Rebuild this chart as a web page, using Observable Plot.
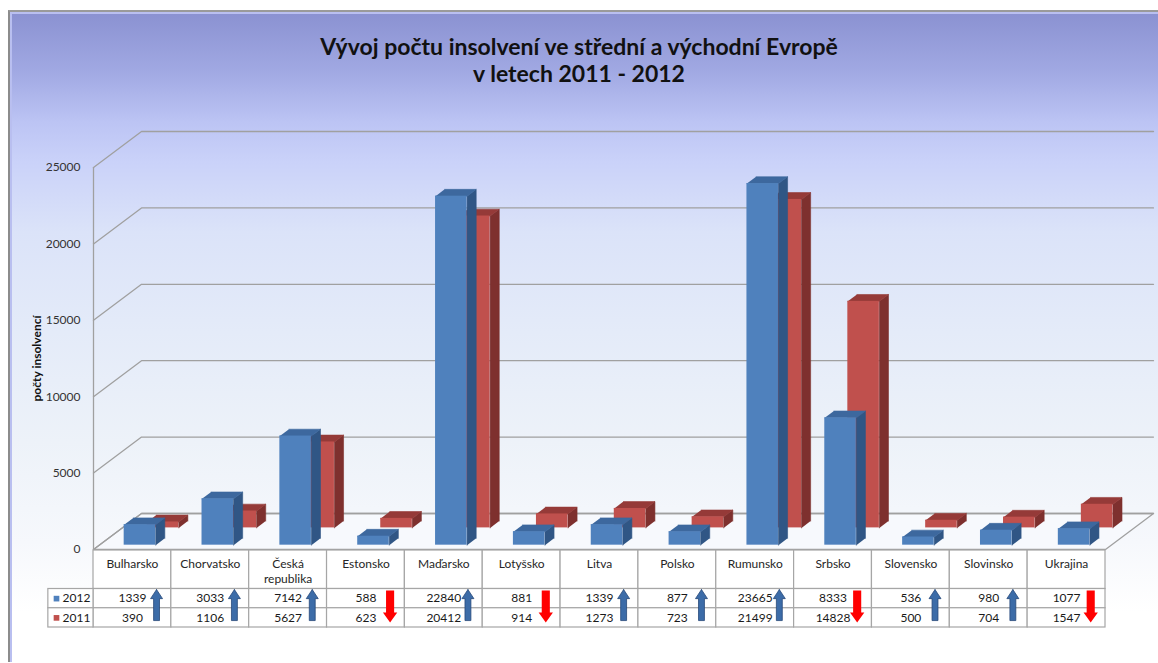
<!DOCTYPE html>
<html><head><meta charset="utf-8">
<script src="https://cdn.jsdelivr.net/npm/d3@7"></script>
<script src="https://cdn.jsdelivr.net/npm/@observablehq/plot@0.6"></script>
<style>
body{margin:0;background:#fff;font-family:Lato,sans-serif;}
#wrap{position:relative;width:1158px;height:663px;overflow:hidden;background:#fff;}
#frame{position:absolute;left:8px;top:10px;width:1170px;height:652px;box-sizing:border-box;
  border-left:2px solid #8c8c8c;border-top:2px solid #9a9a9a;
  box-shadow:inset 2px 2px 0 #b9bff0;
  background:linear-gradient(to bottom,#8a91d1 0px,#a1a9e3 60px,#bcc4f4 110px,#cad2f9 150px,#dbe3f9 220px,#e4ebf9 320px,#edf2f9 430px,#f6f8fc 530px,#ffffff 600px,#ffffff 100%);}
#title{position:absolute;top:33px;left:0;width:1158px;text-align:center;font:bold 23px/27px Lato;color:#111;}
#main{position:absolute;left:0;top:100px;}
#table{position:absolute;left:0;top:549px;}
</style></head>
<body><div id="wrap"><div id="frame"></div>
<div id="title">Vývoj počtu insolvení ve střední a východní Evropě<br>v letech 2011 - 2012</div>
<div id="main"></div><div id="table"></div></div>
<script>
// ---- data ----
const countries = ["Bulharsko","Chorvatsko","Česká\nrepublika","Estonsko","Maďarsko","Lotyšsko","Litva","Polsko","Rumunsko","Srbsko","Slovensko","Slovinsko","Ukrajina"];
const v2012 = [1339,3033,7142,588,22840,881,1339,877,23665,8333,536,980,1077];
const v2011 = [390,1106,5627,623,20412,914,1273,723,21499,14828,500,704,1547];
const years = ["2012","2011"];
const yTicks = [0,5000,10000,15000,20000,25000];

// ---- pseudo-3D projection (layout) ----
const N = countries.length;
const width = 1158, mL = 93, mR = 53;
const colPx = (width - mL - mR) / N;
const kY = 382 / 25000;
const DX = 48 / colPx, DY = 36 / kY;       // offset for full depth, in data units
const barA = 0.32, barW = 0.405;
const series = [
  {values: v2011, d0: 0.60, d1: 0.79, front: "#c0504d", side: "#7e302e", top: "#953a38"},
  {values: v2012, d0: 0.12, d1: 0.31, front: "#4f81bd", side: "#305685", top: "#3d689e"}
];
const P = (c, v, d, z) => ({x: c + d * DX, y: v + d * DY, z});

const floor = [P(0,0,0,"f"), P(N,0,0,"f"), P(N,0,1,"f"), P(0,0,1,"f"), P(0,0,0,"f")];
const grid = yTicks.flatMap(t => [P(0,t,0,t), P(0,t,1,t), P(N,t,1,t)]);

const barMarks = series.flatMap(s => {
  const fronts = s.values.map((v, i) => ({
    x1: i + barA + s.d0 * DX, x2: i + barA + barW + s.d0 * DX,
    y1: s.d0 * DY, y2: v + s.d0 * DY}));
  const sides = s.values.flatMap((v, i) => {
    const c = i + barA + barW;
    return [P(c,0,s.d0,i), P(c,v,s.d0,i), P(c,v,s.d1,i), P(c,0,s.d1,i)];
  });
  const tops = s.values.flatMap((v, i) => {
    const c1 = i + barA, c2 = i + barA + barW;
    return [P(c1,v,s.d0,i), P(c2,v,s.d0,i), P(c2,v,s.d1,i), P(c1,v,s.d1,i)];
  });
  return [
    Plot.line(sides, {x: "x", y: "y", z: "z", fill: s.side, stroke: s.side, strokeWidth: 0.6}),
    Plot.line(tops, {x: "x", y: "y", z: "z", fill: s.top, stroke: s.top, strokeWidth: 0.6}),
    Plot.rect(fronts, {x1: "x1", x2: "x2", y1: "y1", y2: "y2", fill: s.front})
  ];
});

const main = Plot.plot({
  width, height: 460,
  marginLeft: mL, marginRight: mR, marginTop: 67, marginBottom: 11,
  style: {background: "transparent", fontFamily: "Lato", fontSize: "12px", color: "#333", overflow: "visible"},
  x: {domain: [0, N], axis: null},
  y: {domain: [0, 25000], ticks: yTicks, tickSize: 0, tickPadding: 13, tickFormat: d => String(d), label: null},
  marks: [
    Plot.line(floor, {x: "x", y: "y", fill: "#f7f9fd", stroke: "#a0a0a0", strokeWidth: 1.3}),
    Plot.line(grid, {x: "x", y: "y", z: "z", stroke: "#a0a0a0", strokeWidth: 1.3}),
    Plot.ruleX([0], {y1: 0, y2: 25000, stroke: "#a0a0a0", strokeWidth: 1.3}),
    ...barMarks,
    Plot.text(["počty insolvencí"], {frameAnchor: "left", y: 12500, rotate: -90, dx: -56, textAnchor: "middle", fontWeight: "bold", fontSize: 12, fill: "#111"})
  ]
});
document.getElementById("main").append(main);

// ---- data table ----
const cells = countries.map((c, i) => ({i, c}));
const rows = years.map((y, r) => ({y, r, vals: r === 0 ? v2012 : v2011}));
const dataCells = rows.flatMap(row => row.vals.map((v, i) => ({i, v, r: row.r})));
const arrowUp = [], arrowDown = [];
countries.forEach((c, i) => {
  const cx = i + 0.81;
  if (v2012[i] > v2011[i]) {
    const hw = 0.077, sw = 0.038;
    [[cx,2.03],[cx+hw,2.5],[cx+sw,2.5],[cx+sw,3.64],[cx-sw,3.64],[cx-sw,2.5],[cx-hw,2.5],[cx,2.03]]
      .forEach(([x,y]) => arrowUp.push({x, y, z: i}));
  } else {
    const hw = 0.092, sw = 0.052;
    [[cx-sw,2.08],[cx+sw,2.08],[cx+sw,3.22],[cx+hw,3.22],[cx,3.74],[cx-hw,3.22],[cx-sw,3.22],[cx-sw,2.08]]
      .forEach(([x,y]) => arrowDown.push({x, y, z: i}));
  }
});
const colors = {"2012": "#4f81bd", "2011": "#c0504d"};

const table = Plot.plot({
  width, height: 80,
  marginLeft: mL, marginRight: mR, marginTop: 1, marginBottom: 2,
  style: {background: "transparent", fontFamily: "Lato", fontSize: "12px", color: "#262626", overflow: "visible"},
  x: {domain: [0, N], axis: null},
  y: {domain: [0, 4], reverse: true, axis: null},
  marks: [
    Plot.rect(cells, {x1: d => d.i, x2: d => d.i + 1, y1: 0, y2: 2, fill: "#ffffff", stroke: "#a6a6a6", strokeWidth: 1.2}),
    Plot.rect(dataCells, {x1: d => d.i, x2: d => d.i + 1, y1: d => 2 + d.r, y2: d => 3 + d.r, fill: "#ffffff", stroke: "#a6a6a6", strokeWidth: 1.2}),
    Plot.rect(rows, {x1: -0.58, x2: 0, y1: d => 2 + d.r, y2: d => 3 + d.r, fill: "#ffffff", stroke: "#a6a6a6", strokeWidth: 1.2}),
    Plot.text(cells, {x: d => d.i + 0.5, y: 0, text: "c", lineAnchor: "top", dy: 7, lineHeight: 1.25, fill: "#262626"}),
    Plot.text(dataCells, {x: d => d.i + 0.5, y: d => 2.5 + d.r, text: d => String(d.v), fill: "#1a1a1a"}),
    Plot.dot(rows, {frameAnchor: "left", y: d => 2.5 + d.r, dx: -37, symbol: "square", r: 3.2, fill: d => colors[d.y], stroke: "none"}),
    Plot.text(rows, {frameAnchor: "left", y: d => 2.5 + d.r, dx: -31, text: "y", textAnchor: "start", fill: "#1a1a1a"}),
    Plot.line(arrowUp, {x: "x", y: "y", z: "z", fill: "#3c6ca8", stroke: "#27497a", strokeWidth: 0.8}),
    Plot.line(arrowDown, {x: "x", y: "y", z: "z", fill: "#ff0000", stroke: "none"})
  ]
});
document.getElementById("table").append(table);
</script></body></html>
